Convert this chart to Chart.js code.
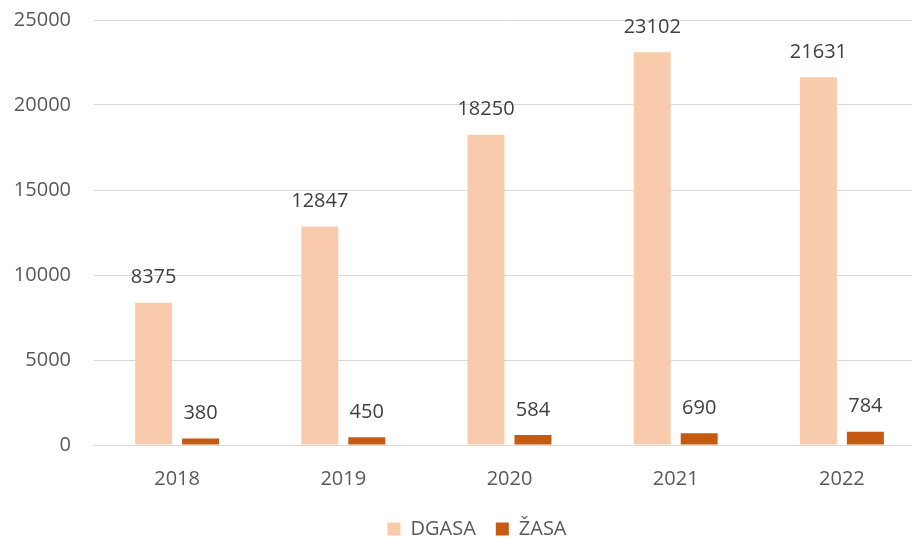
<!DOCTYPE html>
<html>
<head>
<meta charset="utf-8">
<script src="https://cdn.jsdelivr.net/npm/chart.js@4/dist/chart.umd.min.js"></script>
<style>
html,body{margin:0;padding:0;background:#fff;overflow:hidden;width:912px;height:538px;}
#wrap{position:absolute;left:0;top:0;width:940px;height:538px;}
</style>
</head>
<body>
<div id="wrap"><canvas id="c"></canvas></div>
<script>
const categories = ['2018', '2019', '2020', '2021', '2022'];
const dgasaValues = [8375, 12847, 18250, 23102, 21631];
const zasaValues = [380, 450, 584, 690, 784];
const seriesNames = ['DGASA', 'ŽASA'];
const yTicks = [0, 5000, 10000, 15000, 20000, 25000];

const FONT = "'Open Sans', 'Liberation Sans', sans-serif";

const dataLabels = {
  id: 'dataLabels',
  afterDatasetsDraw(chart) {
    const ctx = chart.ctx;
    ctx.save();
    ctx.font = '20px ' + FONT;
    ctx.fillStyle = '#404040';
    ctx.textAlign = 'center';
    ctx.textBaseline = 'middle';
    chart.data.datasets.forEach((ds, i) => {
      const meta = chart.getDatasetMeta(i);
      meta.data.forEach((bar, j) => {
        ctx.fillText(String(ds.data[j]), bar.x, bar.y - 25);
      });
    });
    ctx.restore();
  }
};

// shift legend box so it sits where the reference places it
const legendShift = {
  id: 'legendShift',
  afterLayout(chart) {
    const lg = chart.legend;
    if (!lg) return;
    const dx = 14.5;
    lg.left += dx; lg.right += dx;
    const targetTop = 499;
    const dy = targetTop - lg.top;
    lg.top += dy; lg.bottom += dy;
  }
};

new Chart(document.getElementById('c'), {
  type: 'bar',
  data: {
    labels: categories,
    datasets: [
      { label: seriesNames[0], data: dgasaValues, backgroundColor: '#F8CBAD', categoryPercentage: 0.565, barPercentage: 0.787 },
      { label: seriesNames[1], data: zasaValues, backgroundColor: '#C55A11', categoryPercentage: 0.565, barPercentage: 0.787 }
    ]
  },
  options: {
    responsive: true,
    maintainAspectRatio: false,
    animation: false,
    layout: { padding: { left: 0, right: 15, top: 20, bottom: 0 } },
    plugins: {
      legend: {
        position: 'bottom',
        labels: {
          font: { family: FONT, size: 20 },
          color: '#595959',
          boxWidth: 13,
          boxHeight: 13,
          padding: 20
        }
      },
      tooltip: { enabled: false }
    },
    scales: {
      x: {
        grid: { display: false, drawTicks: false },
        border: { color: '#D9D9D9', width: 1 },
        ticks: { font: { family: FONT, size: 20 }, color: '#595959', padding: 22 },
        afterFit(s) { s.height = 43; s.paddingLeft = 0; s.paddingRight = 0; }
      },
      y: {
        min: 0,
        max: 25000,
        afterBuildTicks(s) { s.ticks = yTicks.map(v => ({ value: v })); },
        grid: { color: '#D9D9D9', lineWidth: 1, drawTicks: false },
        border: { display: false },
        ticks: { font: { family: FONT, size: 20 }, color: '#595959', padding: 23, callback: v => String(v) },
        afterFit(s) { s.width = 94; s.paddingTop = 0; s.paddingBottom = 0; }
      }
    }
  },
  plugins: [dataLabels, legendShift]
});
</script>
</body>
</html>
